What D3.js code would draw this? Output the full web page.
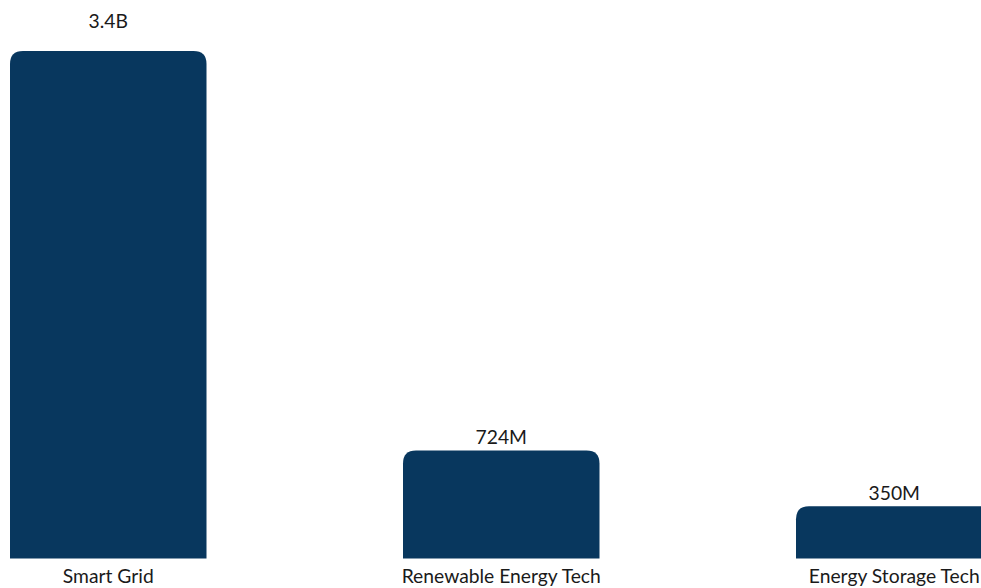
<!DOCTYPE html>
<html><head><meta charset="utf-8">
<script src="https://cdn.jsdelivr.net/npm/d3@7"></script>
<style>html,body{margin:0;padding:0;background:#fff;overflow:hidden}</style>
</head><body>
<script>
const categories = ["Smart Grid", "Renewable Energy Tech", "Energy Storage Tech"];
const values = [3.4e9, 724e6, 350e6];
const valueLabels = ["3.4B", "724M", "350M"];

const W = 981, H = 588;
const svg = d3.select("body").append("svg").attr("width", W).attr("height", H);

const x = d3.scaleBand().domain(categories).range([10, 992.5]).paddingInner(0.5).paddingOuter(0);
const y = d3.scaleLinear().domain([0, 3.4e9]).range([558.5, 51]);

const r = 13;
function topRounded(x0, y0, w, h, rr) {
  rr = Math.min(rr, h, w / 2);
  return `M${x0},${y0 + h}V${y0 + rr}Q${x0},${y0} ${x0 + rr},${y0}H${x0 + w - rr}Q${x0 + w},${y0} ${x0 + w},${y0 + rr}V${y0 + h}Z`;
}

const data = categories.map((c, i) => ({c, v: values[i], l: valueLabels[i]}));

svg.selectAll("path.bar").data(data).join("path").attr("class", "bar")
  .attr("d", d => topRounded(x(d.c), y(d.v), x.bandwidth(), y(0) - y(d.v), r))
  .attr("fill", "#08375e");

svg.selectAll("text.val").data(data).join("text").attr("class", "val")
  .attr("x", d => x(d.c) + x.bandwidth() / 2)
  .attr("y", d => y(d.v) < 80 ? y(d.v) - 23 : y(d.v) - 6)
  .attr("text-anchor", "middle")
  .attr("font-family", "Lato, sans-serif").attr("font-size", 19.3).attr("fill", "#1a1a1a")
  .text(d => d.l);

svg.selectAll("text.cat").data(data).join("text").attr("class", "cat")
  .attr("x", d => x(d.c) + x.bandwidth() / 2)
  .attr("y", 583)
  .attr("text-anchor", "middle")
  .attr("font-family", "Lato, sans-serif").attr("font-size", 19.3).attr("fill", "#1a1a1a")
  .text(d => d.c);
</script>
</body></html>
